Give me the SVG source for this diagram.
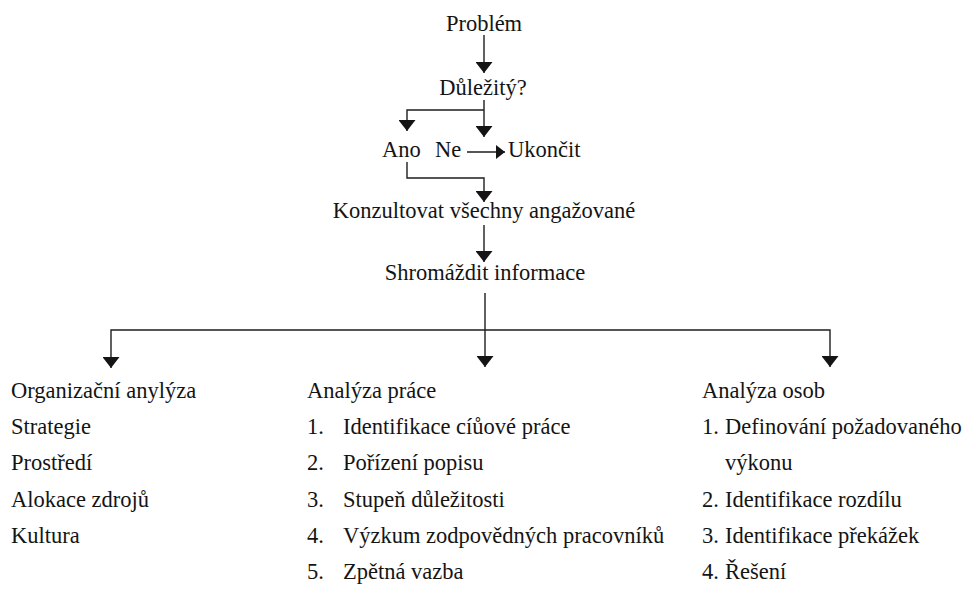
<svg xmlns="http://www.w3.org/2000/svg" width="976" height="593" viewBox="0 0 976 593">
  <style>
    text { font-family: 'Liberation Serif', Tinos, 'Times New Roman', Times, 'Nimbus Roman', FreeSerif, 'DejaVu Serif', serif; font-size: 22.5px; fill: #141414; }
    .c { text-anchor: middle; }
    .edge { fill: none; stroke: #1e1e1e; stroke-width: 1.4; }
  </style>
  <defs>
    <marker id="head" viewBox="0 0 11 17" refX="11" refY="8.5" markerWidth="11" markerHeight="17" markerUnits="userSpaceOnUse" orient="auto">
      <path d="M0,0 L11,8.5 L0,17 z" fill="#141414"/>
    </marker>
    <marker id="headSmall" viewBox="0 0 9 14" refX="9" refY="7" markerWidth="9" markerHeight="14" markerUnits="userSpaceOnUse" orient="auto">
      <path d="M0,0 L9,7 L0,14 z" fill="#141414"/>
    </marker>
  </defs>

  <rect width="976" height="593" fill="#ffffff"/>

  <!-- flow connectors -->
  <g id="connectors">
    <path class="edge" d="M484,35 V73" marker-end="url(#head)"/>
    <path class="edge" d="M484,100 V137" marker-end="url(#head)"/>
    <path class="edge" d="M484,110 H407 V131" marker-end="url(#head)"/>
    <path class="edge" d="M467,152 H505" marker-end="url(#headSmall)"/>
    <path class="edge" d="M407,162 V178 H484 V202" marker-end="url(#head)"/>
    <path class="edge" d="M484,225 V262" marker-end="url(#head)"/>
    <path class="edge" d="M485,293 V367" marker-end="url(#head)"/>
    <path class="edge" d="M485,330 H111 V368" marker-end="url(#head)"/>
    <path class="edge" d="M485,330 H830 V367" marker-end="url(#head)"/>
  </g>

  <g id="problem"><text class="c" x="484" y="31">Problém</text></g>
  <g id="important"><text class="c" x="483" y="95">Důležitý?</text></g>
  <g id="yes"><text x="382" y="157">Ano</text></g>
  <g id="no"><text x="435" y="157">Ne</text></g>
  <g id="stop"><text x="508" y="157">Ukončit</text></g>
  <g id="consult"><text class="c" x="484" y="218">Konzultovat všechny angažované</text></g>
  <g id="gather"><text class="c" x="485" y="280">Shromáždit informace</text></g>

  <g id="org-analysis">
    <text x="11" y="398">Organizační anylýza</text>
    <text x="11" y="434">Strategie</text>
    <text x="11" y="470">Prostředí</text>
    <text x="11" y="507">Alokace zdrojů</text>
    <text x="11" y="543">Kultura</text>
  </g>

  <g id="job-analysis">
    <text x="307" y="398">Analýza práce</text>
    <text x="307" y="434">1.</text><text x="343" y="434">Identifikace cíůové práce</text>
    <text x="307" y="470">2.</text><text x="343" y="470">Pořízení popisu</text>
    <text x="307" y="507">3.</text><text x="343" y="507">Stupeň důležitosti</text>
    <text x="307" y="543">4.</text><text x="343" y="543">Výzkum zodpovědných pracovníků</text>
    <text x="307" y="579">5.</text><text x="343" y="579">Zpětná vazba</text>
  </g>

  <g id="person-analysis">
    <text x="702" y="398">Analýza osob</text>
    <text x="702" y="434">1.</text><text x="725" y="434">Definování požadovaného</text>
    <text x="725" y="470">výkonu</text>
    <text x="702" y="507">2.</text><text x="725" y="507">Identifikace rozdílu</text>
    <text x="702" y="543">3.</text><text x="725" y="543">Identifikace překážek</text>
    <text x="702" y="579">4.</text><text x="725" y="579">Řešení</text>
  </g>
</svg>
